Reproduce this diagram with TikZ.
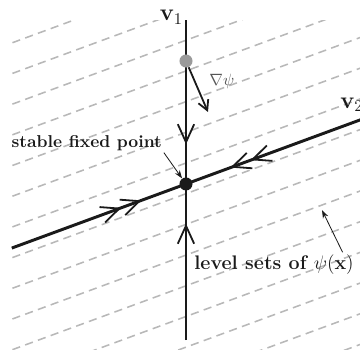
\documentclass[tikz,border=0pt]{standalone}
\usepackage{amsmath,amssymb}
\usepackage{xcolor}
\usetikzlibrary{arrows.meta,decorations.markings}
\definecolor{axisdark}{HTML}{1a1a1a}
\definecolor{levelgray}{HTML}{b8b8b8}
\definecolor{dotgray}{HTML}{9a9a9a}
\definecolor{gradtext}{HTML}{555555}

\begin{document}
\begin{tikzpicture}[
  flowtip/.tip={Straight Barb[length=11pt, width=10pt, line width=1.1pt]},
  axisline/.style={line width=1.8pt, axisdark},
  levelline/.style={dash pattern=on 5pt off 3.3pt, levelgray, line width=0.95pt},
  inflow/.style={postaction=decorate, decoration={markings,
                 mark=at position -0.85cm with {\arrow{flowtip}}}},
  inflowtwo/.style={postaction=decorate, decoration={markings,
                 mark=at position -1.02cm with {\arrow{flowtip}},
                 mark=at position -1.48cm with {\arrow{flowtip}}}},
  fixdot/.style={circle, fill=axisdark, inner sep=0pt, minimum size=0.28cm},
  graddot/.style={circle, fill=dotgray, inner sep=0pt, minimum size=0.28cm},
  gradarrow/.style={-{Straight Barb[length=6pt, width=6.5pt]}, line width=1.1pt, axisdark},
  vlbl/.style={font=\Large, inner sep=0pt, text=axisdark},
  gradlbl/.style={text=gradtext, inner sep=1pt},
  notelbl/.style={font=\bfseries, text=axisdark, inner sep=1pt},
  pointer/.style={-{Stealth[length=5pt, width=3.5pt]}, line width=0.5pt, axisdark}
]
\clip (-3.993,-3.650) rectangle (3.736,3.950);

%--- Level sets of psi ---
\begin{scope}
  \clip (-3.74,-3.56) rectangle (3.97,3.52);
  \foreach \j in {-7,...,7}
    \draw[levelline, shift={(0,{0.659*\j-0.209})}] (-4,-1.472) -- (4.2,1.546);
\end{scope}

%--- Eigen directions ---
\coordinate (fp) at (0,0);
\coordinate (v1top) at (0,3.52);
\coordinate (v1bot) at (0,-3.35);
\coordinate (v2left) at (-3.74,-1.376);
\coordinate (v2right) at (3.95,1.453);

\draw[axisline, inflow] (v1top) -- (fp);
\draw[axisline, inflow] (v1bot) -- (fp);
\draw[axisline, inflowtwo] (v2left) -- (fp);
\draw[axisline, inflowtwo] (v2right) -- (fp);

\node[vlbl, anchor=base east] (v1lbl) at (-0.06,3.50) {$\mathbf{v}_1$};
\node[vlbl, anchor=base west] (v2lbl) at (3.31,1.63) {$\mathbf{v}_2$};

%--- Fixed point and gradient ---
\node[fixdot] (fpdot) at (fp) {};
\node[graddot] (gdot) at (0,2.64) {};
\coordinate (gradtip) at (0.472,1.546);
\draw[gradarrow] (gdot) -- (gradtip);
\node[gradlbl] (grad) at (0.77,2.2) {$\nabla\psi$};

%--- Annotations ---
\node[notelbl, font=\fontsize{10.5pt}{12.5pt}\selectfont\bfseries] (sfp) at (-2.13,0.88) {stable fixed point};
\draw[pointer] (sfp.south east) -- (fpdot);

\node[notelbl, font=\large\bfseries] (ls) at (1.89,-1.72) {level sets of $\psi(\mathbf{x})$};
\coordinate (lsfrom) at ([xshift=-0.28cm]ls.north east);
\coordinate (lsto) at (2.92,-0.56);
\draw[pointer] (lsfrom) -- (lsto);

\end{tikzpicture}
\end{document}
